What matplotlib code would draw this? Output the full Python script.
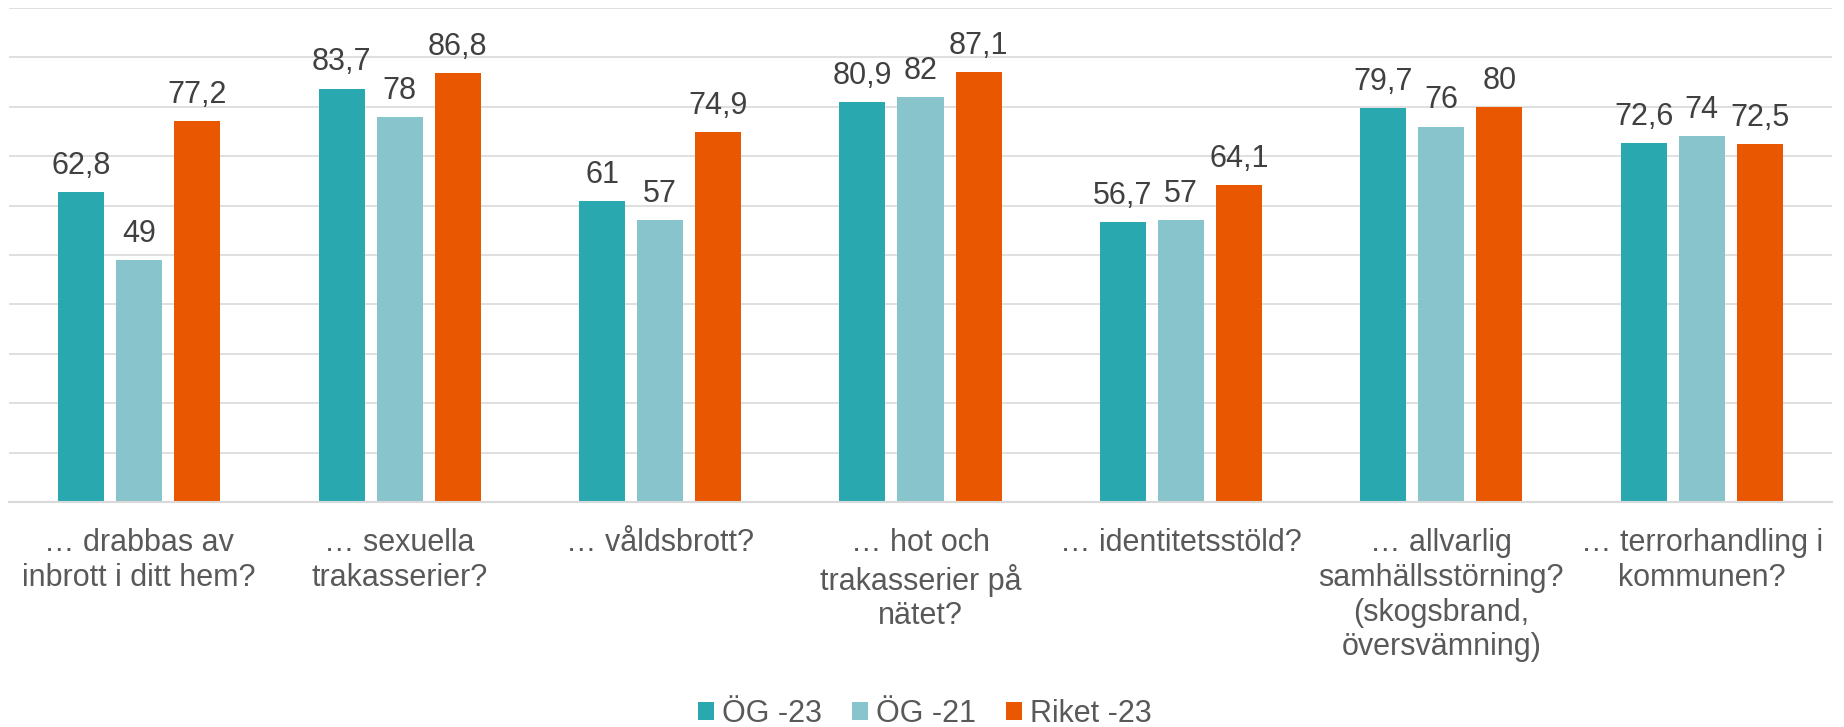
import numpy as np
import matplotlib.pyplot as plt

plt.rcParams['font.family'] = ['Liberation Sans', 'DejaVu Sans']

categories = ["\u2026 drabbas av\ninbrott i ditt hem?",
              "\u2026 sexuella\ntrakasserier?",
              "\u2026 våldsbrott?",
              "\u2026 hot och\ntrakasserier på\nnätet?",
              "\u2026 identitetsstöld?",
              "\u2026 allvarlig\nsamhällsstörning?\n(skogsbrand,\növersvämning)",
              "\u2026 terrorhandling i\nkommunen?"]
series_names = ["ÖG -23", "ÖG -21", "Riket -23"]
og23 = [62.8, 83.7, 61, 80.9, 56.7, 79.7, 72.6]
og21 = [49, 78, 57, 82, 57, 76, 74]
riket23 = [77.2, 86.8, 74.9, 87.1, 64.1, 80, 72.5]
colors = ["#2AA8B0", "#88C4CB", "#E95800"]

def fmt(v):
    # swedish decimal comma, drop .0
    if float(v).is_integer():
        return str(int(v))
    return ("%.1f" % v).replace(".", ",")

fig = plt.figure(figsize=(18.44, 7.27), dpi=100)
ax = fig.add_axes([0.0049, 0.3095, 0.9886, 0.6795])

x = np.arange(len(categories))
w = 0.177
step = 0.223
for i, (vals, name) in enumerate(zip([og23, og21, riket23], series_names)):
    pos = x + (i - 1) * step
    bars = ax.bar(pos, vals, width=w, color=colors[i], label=name, zorder=3)
    for b, v in zip(bars, vals):
        ax.annotate(fmt(v), (b.get_x() + b.get_width() / 2, v),
                    xytext=(0, 8), textcoords='offset points',
                    ha='center', va='bottom', fontsize=22, color='#404040')

ax.set_xlim(-0.5, len(categories) - 0.5)
ax.set_ylim(0, 100)
ax.set_yticks(np.arange(0, 101, 10))
ax.yaxis.grid(True, color='#D9D9D9', linewidth=1.2, zorder=0)
ax.set_yticklabels([])
ax.tick_params(axis='y', length=0)
for s in ['top', 'left', 'right']:
    ax.spines[s].set_visible(False)
ax.spines['bottom'].set_color('#D9D9D9')
ax.spines['bottom'].set_linewidth(1.5)
ax.spines['bottom'].set_zorder(4)

ax.set_xticks(x)
ax.set_xticklabels(categories, fontsize=22, color='#595959', linespacing=1.2)
ax.tick_params(axis='x', length=0, pad=19)

fig.legend(loc='center', bbox_to_anchor=(0.5016, 0.018), ncol=3, frameon=False,
           fontsize=22, handlelength=0.52, handleheight=0.52, handletextpad=0.25,
           columnspacing=1.0, labelcolor='#595959', borderpad=0)

fig.savefig("out.png", dpi=100)
